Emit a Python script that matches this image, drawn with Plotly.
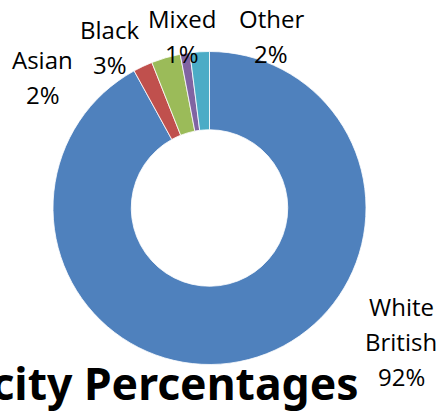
import plotly.graph_objects as go

W, H = 444, 414

# Ethnic group shares (percent)
groups = ["White British", "Asian", "Black", "Mixed", "Other"]
shares = [92, 2, 3, 1, 2]
colors = ["#4F81BD", "#C0504D", "#9BBB59", "#8064A2", "#4BACC6"]
title_text = "Ethnicity Percentages"

# label placement (pixel centre x, pixel baseline of first line), and line breaks
label_lines = {
    "White British": ["White", "British"],
    "Asian": ["Asian"],
    "Black": ["Black"],
    "Mixed": ["Mixed"],
    "Other": ["Other"],
}
label_pos = {
    "White British": (401, 315),
    "Asian": (42.5, 68),
    "Black": (109.5, 38),
    "Mixed": (182, 27),
    "Other": (271, 27),
}
LINE_GAP = 35
LABEL_SIZE = 24
FONT = "Open Sans"
TITLE_FONT = "Noto Sans"
TITLE_SIZE = 44.5

# donut geometry in pixels
cx, cy, r = 209.5, 208, 156.5


def px_x(x):
    return x / W


def px_y(y):
    return 1 - y / H


fig = go.Figure(
    go.Pie(
        labels=groups,
        values=shares,
        hole=0.5,
        sort=False,
        direction="clockwise",
        rotation=0,
        marker=dict(colors=colors, line=dict(color="white", width=0.8)),
        textinfo="none",
        hoverinfo="label+percent",
        domain=dict(x=[px_x(cx - r), px_x(cx + r)], y=[px_y(cy + r), px_y(cy - r)]),
        showlegend=False,
    )
)

total = sum(shares)
annotations = []
# baseline -> middle offset for the label font
mid_off = 0.36 * LABEL_SIZE
for g, v in zip(groups, shares):
    x, y0 = label_pos[g]
    lines = label_lines[g] + [f"{round(100 * v / total)}%"]
    for i, line in enumerate(lines):
        annotations.append(
            dict(
                text=line,
                x=px_x(x),
                y=px_y(y0 + i * LINE_GAP - mid_off),
                xref="paper",
                yref="paper",
                xanchor="center",
                yanchor="middle",
                showarrow=False,
                font=dict(family=FONT, size=LABEL_SIZE, color="#000000"),
            )
        )

# chart title, running off the left edge
annotations.append(
    dict(
        text=f"<b>{title_text}</b>",
        x=px_x(361),
        y=px_y(399 - 0.36 * TITLE_SIZE),
        xref="paper",
        yref="paper",
        xanchor="right",
        yanchor="middle",
        showarrow=False,
        font=dict(family=TITLE_FONT, size=TITLE_SIZE, color="#000000"),
    )
)

fig.update_layout(
    width=W,
    height=H,
    margin=dict(l=0, r=0, t=0, b=0),
    paper_bgcolor="white",
    plot_bgcolor="white",
    annotations=annotations,
)

fig.write_html("out.html")
